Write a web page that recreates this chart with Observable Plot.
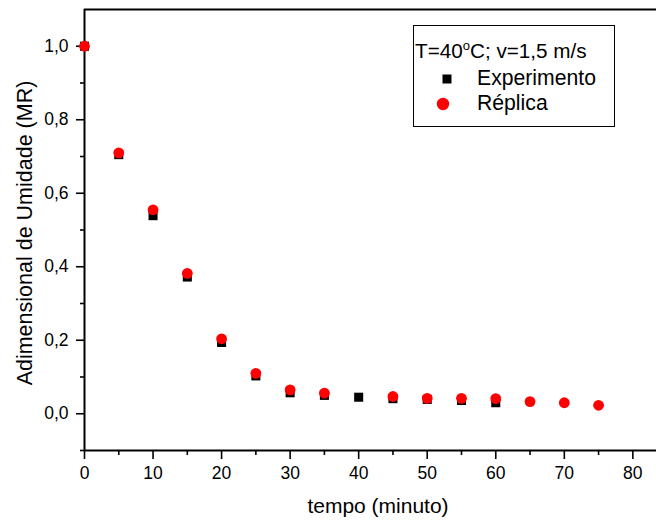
<!DOCTYPE html>
<html>
<head>
<meta charset="utf-8">
<script src="https://cdn.jsdelivr.net/npm/d3@7"></script>
<script src="https://cdn.jsdelivr.net/npm/@observablehq/plot@0.6"></script>
<style>
  html, body { margin: 0; padding: 0; background: #fff; }
  #chart { width: 656px; height: 520px; }
</style>
</head>
<body>
<div id="chart"></div>
<script>
const tempoExp = [0, 5, 10, 15, 20, 25, 30, 35, 40, 45, 50, 55, 60];
const mrExp    = [1.0, 0.705, 0.539, 0.372, 0.194, 0.103, 0.057, 0.050, 0.045, 0.041, 0.039, 0.036, 0.030];
const tempoRep = [0, 5, 10, 15, 20, 25, 30, 35, 45, 50, 55, 60, 65, 70, 75];
const mrRep    = [1.0, 0.710, 0.555, 0.382, 0.204, 0.110, 0.065, 0.056, 0.047, 0.042, 0.042, 0.041, 0.033, 0.030, 0.023];
const xTicks = [0, 10, 20, 30, 40, 50, 60, 70, 80];
const xMinor = [5, 15, 25, 35, 45, 55, 65, 75];
const yTicks = [0, 0.2, 0.4, 0.6, 0.8, 1.0];
const yMinor = [-0.1, 0.1, 0.3, 0.5, 0.7, 0.9];
const legendTitle = "T=40°C; v=1,5 m/s";
const seriesNames = ["Experimento", "Réplica"];
const xLabel = "tempo (minuto)";
const yLabel = "Adimensional de Umidade (MR)";

const expData = tempoExp.map((t, i) => ({t, mr: mrExp[i]}));
const repData = tempoRep.map((t, i) => ({t, mr: mrRep[i]}));
const fmt = d => d.toFixed(1).replace(".", ",");

const plot = Plot.plot({
  width: 656,
  height: 520,
  marginLeft: 84,
  marginRight: 0,
  marginTop: 9,
  marginBottom: 70,
  style: {fontFamily: "'Liberation Sans', Arial, sans-serif", fontSize: "17px", color: "#000", background: "#fff"},
  x: {domain: [0, 83.45]},
  y: {domain: [-0.1, 1.1]},
  marks: [
    Plot.axisX({ticks: xTicks, tickSize: 9, tickPadding: 7, strokeWidth: 1.6, fontSize: 17.5, label: null, tickFormat: d => String(d)}),
    Plot.axisX({ticks: xMinor, tickSize: 5, strokeWidth: 1.6, text: null, label: null}),
    Plot.axisY({ticks: yTicks, tickSize: 8, tickPadding: 8, strokeWidth: 1.6, fontSize: 17.5, label: null, tickFormat: fmt}),
    Plot.axisY({ticks: yMinor, tickSize: 4, strokeWidth: 1.6, text: null, label: null}),
    Plot.ruleY([-0.1], {stroke: "#000", strokeWidth: 2}),
    Plot.ruleY([1.1], {stroke: "#000", strokeWidth: 2}),
    Plot.ruleX([0], {stroke: "#000", strokeWidth: 2}),
    Plot.dot(expData, {x: "t", y: "mr", symbol: "square", r: 5.1, fill: "#000", stroke: "none"}),
    Plot.dot(repData, {x: "t", y: "mr", symbol: "circle", r: 5.4, fill: "#ff0000", stroke: "none"})
  ]
});

const svg = d3.select(plot);
const font = "'Liberation Sans', Arial, sans-serif";
// axis titles
svg.append("text")
  .attr("x", 378).attr("y", 513)
  .attr("text-anchor", "middle")
  .attr("font-family", font).attr("font-size", 21).attr("fill", "#000")
  .text(xLabel);
svg.append("text")
  .attr("transform", "translate(32,233) rotate(-90)")
  .attr("text-anchor", "middle")
  .attr("font-family", font).attr("font-size", 21.5).attr("fill", "#000")
  .text(yLabel);

// legend
const lg = svg.append("g").attr("text-anchor", "start");
lg.append("rect")
  .attr("x", 413.5).attr("y", 25.5).attr("width", 201).attr("height", 101)
  .attr("fill", "#fff").attr("stroke", "#000").attr("stroke-width", 1);
const t1 = lg.append("text")
  .attr("x", 415).attr("y", 57.5).attr("text-anchor", "start")
  .attr("font-family", font).attr("font-size", 20.7).attr("fill", "#000");
const parts = legendTitle.split("°");
t1.append("tspan").text(parts[0]);
t1.append("tspan").attr("dy", -8).attr("font-size", 13).text("o");
t1.append("tspan").attr("dy", 8).text(parts[1]);
lg.append("rect").attr("x", 442.5).attr("y", 74.5).attr("width", 9).attr("height", 9).attr("fill", "#000");
lg.append("circle").attr("cx", 443).attr("cy", 104).attr("r", 6.2).attr("fill", "#ff0000");
lg.append("text").attr("x", 477).attr("y", 85).attr("text-anchor", "start")
  .attr("font-family", font).attr("font-size", 21.2).attr("fill", "#000").text(seriesNames[0]);
lg.append("text").attr("x", 477).attr("y", 109.5).attr("text-anchor", "start")
  .attr("font-family", font).attr("font-size", 21.2).attr("fill", "#000").text(seriesNames[1]);

document.getElementById("chart").appendChild(plot);
</script>
</body>
</html>
